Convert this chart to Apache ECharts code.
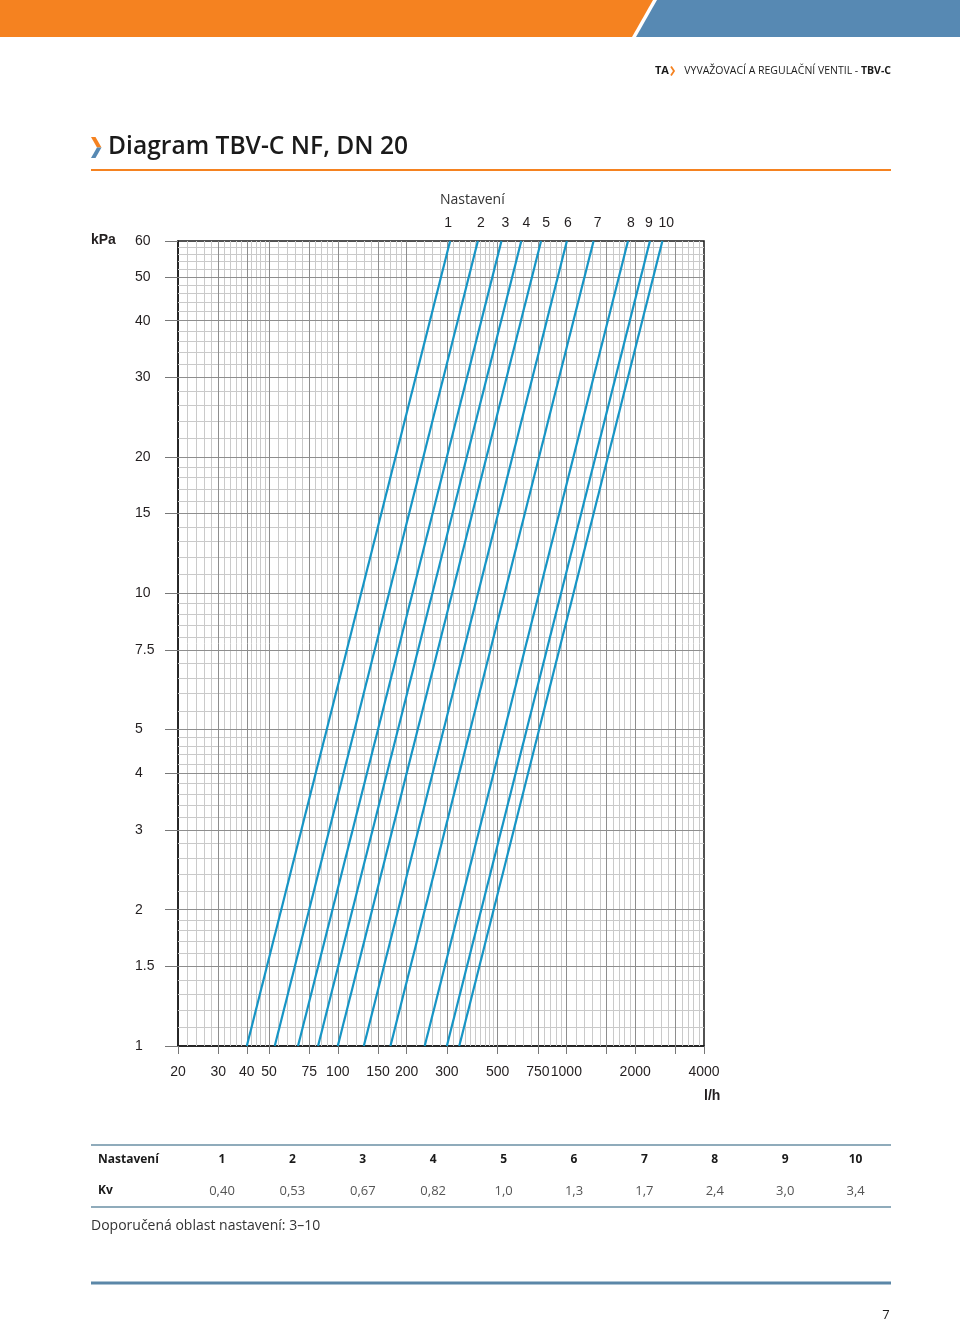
<!DOCTYPE html>
<html><head><meta charset="utf-8">
<script src="https://cdn.jsdelivr.net/npm/echarts@6/dist/echarts.min.js"></script>
<style>html,body{margin:0;padding:0;background:#fff}#c{width:960px;height:1322px}</style>
</head><body><div id="c"></div>
<script>
// ---- data ----
const settings = ['1','2','3','4','5','6','7','8','9','10'];
const kvValues = ['0,40','0,53','0,67','0,82','1,0','1,3','1,7','2,4','3,0','3,4'];
const pressureEnds = [1, 60];                 // kPa at bottom / top of each line
const flowAtBottom = [40, 53, 67, 82, 100, 130, 170, 240, 300, 340];      // l/h at 1 kPa
const flowAtTop = [310, 410, 520, 635, 775, 1005, 1315, 1860, 2320, 2630]; // l/h at 60 kPa

const xLabelValues = [20, 30, 40, 50, 75, 100, 150, 200, 300, 500, 750, 1000, 2000, 4000];
const xTickValues = [20, 30, 40, 50, 75, 100, 150, 200, 300, 500, 750, 1000, 1500, 2000, 3000, 4000];
const xMajorGrid = [30, 40, 50, 75, 100, 150, 200, 300, 500, 750, 1000, 1500, 2000, 3000];
const xMinorGrid = [22,24,26,28,32,34,36,38,42,44,46,48,55,60,65,70,80,85,90,95,
  110,120,130,140,160,170,180,190,220,240,260,280,320,340,360,380,400,420,440,460,480,
  550,600,650,700,800,850,900,950,1100,1200,1300,1400,1600,1700,1800,1900,
  2200,2400,2600,2800,3200,3400,3600,3800];

const yLabelValues = [1, 1.5, 2, 3, 4, 5, 7.5, 10, 15, 20, 30, 40, 50, 60];
const yMajorGrid = [1.5, 2, 3, 4, 5, 7.5, 10, 15, 20, 30, 40, 50];
const yMinorGrid = [1.1,1.2,1.3,1.4,1.6,1.7,1.8,1.9,2.2,2.4,2.6,2.8,3.2,3.4,3.6,3.8,
  4.2,4.4,4.6,4.8,5.5,6,6.5,7,8,8.5,9,9.5,11,12,13,14,16,17,18,19,
  22,24,26,28,32,34,36,38,42,44,46,48,52,54,56,58];

const tableRowLabels = ['Nastavení', 'Kv'];

// ---- styling ----
const labelShift = [-2, 3, 4, 5, 5, 1, 4, 3, -1, 4]; // horizontal nudges of the top labels (px)
const numFont = 'Liberation Sans, Arial, sans-serif';
const txtFont = 'Open Sans, sans-serif';
const lineBlue = '#1795c5';

const chart = echarts.init(document.getElementById('c'), null, {renderer: 'canvas'});

const lineSeries = settings.map((s, i) => ({
  type: 'line', name: s, z: 5,
  symbol: 'circle', symbolSize: 0.1, showSymbol: true,
  lineStyle: {color: lineBlue, width: 2.2},
  itemStyle: {color: lineBlue},
  data: [
    [flowAtBottom[i], pressureEnds[0]],
    {value: [flowAtTop[i], pressureEnds[1]],
     label: {show: true, position: 'top', distance: 11, formatter: s,
             fontFamily: numFont, fontSize: 14, color: '#231f20', offset: [labelShift[i], 0]}}
  ]
}));

const gridSeries = [
  {type: 'line', data: [], silent: true, z: 1,
   markLine: {silent: true, animation: false, symbol: ['none', 'none'], label: {show: false},
     lineStyle: {color: '#cacaca', width: 1, type: 'solid'},
     data: xMinorGrid.map(v => ({xAxis: v})).concat(yMinorGrid.map(v => ({yAxis: v})))}},
  {type: 'line', data: [], silent: true, z: 2,
   markLine: {silent: true, animation: false, symbol: ['none', 'none'], label: {show: false},
     lineStyle: {color: '#8e8e8e', width: 1, type: 'solid'},
     data: xMajorGrid.map(v => ({xAxis: v})).concat(yMajorGrid.map(v => ({yAxis: v})))}}
];

const colX = settings.map((s, i) => 222 + i * 70.4);
const g = [];
// header bars
g.push({type: 'polygon', shape: {points: [[0,0],[653,0],[632,37],[0,37]]}, style: {fill: '#f58220'}});
g.push({type: 'polygon', shape: {points: [[657,0],[960,0],[960,37],[636,37]]}, style: {fill: '#5789b3'}});
// header text
g.push({type: 'text', x: 655, y: 71, style: {text: 'TA', font: 'bold 11px ' + txtFont, fill: '#1a1a1a', verticalAlign: 'middle'}});
g.push({type: 'polyline', shape: {points: [[671,66.5],[674,71],[671,75.5]]}, style: {stroke: '#f58220', lineWidth: 1.8, fill: null}});
g.push({type: 'text', x: 891, y: 71, style: {
  text: '{r|VYVAŽOVACÍ A REGULAČNÍ VENTIL - }{b|TBV-C}', align: 'right', verticalAlign: 'middle',
  rich: {r: {font: '10.5px ' + txtFont, fill: '#1a1a1a'}, b: {font: 'bold 10.5px ' + txtFont, fill: '#1a1a1a'}}}});
// title
g.push({type: 'polygon', shape: {points: [[91,137],[95.5,137],[101.5,147.5],[97,147.5]]}, style: {fill: '#f58220'}});
g.push({type: 'polygon', shape: {points: [[97,147.5],[101.5,147.5],[95.5,158],[91,158]]}, style: {fill: '#5789b3'}});
g.push({type: 'text', x: 108, y: 147, style: {text: 'Diagram TBV-C NF, DN 20', font: '600 24.6px ' + txtFont, fill: '#1a1a1a', verticalAlign: 'middle'}});
g.push({type: 'line', shape: {x1: 91, y1: 170, x2: 891, y2: 170}, style: {stroke: '#f58220', lineWidth: 2}});
// chart annotations
g.push({type: 'text', x: 440, y: 200, style: {text: 'Nastavení', font: '14px ' + txtFont, fill: '#333', verticalAlign: 'middle'}});
g.push({type: 'text', x: 91, y: 240, style: {text: 'kPa', font: 'bold 14px ' + numFont, fill: '#231f20', verticalAlign: 'middle'}});
g.push({type: 'text', x: 704, y: 1096, style: {text: 'l/h', font: 'bold 14px ' + numFont, fill: '#231f20', verticalAlign: 'middle'}});
// table
g.push({type: 'line', shape: {x1: 91, y1: 1145, x2: 891, y2: 1145}, style: {stroke: '#8fabbb', lineWidth: 2}});
g.push({type: 'line', shape: {x1: 91, y1: 1207, x2: 891, y2: 1207}, style: {stroke: '#8fabbb', lineWidth: 2}});
g.push({type: 'text', x: 98, y: 1160, style: {text: tableRowLabels[0], font: 'bold 12px ' + txtFont, fill: '#1a1a1a', verticalAlign: 'middle'}});
g.push({type: 'text', x: 98, y: 1191, style: {text: tableRowLabels[1], font: 'bold 12px ' + txtFont, fill: '#1a1a1a', verticalAlign: 'middle'}});
settings.forEach((s, i) => {
  g.push({type: 'text', x: colX[i], y: 1160, style: {text: s, font: 'bold 12px ' + txtFont, fill: '#1a1a1a', align: 'center', verticalAlign: 'middle'}});
  g.push({type: 'text', x: colX[i], y: 1191, style: {text: kvValues[i], font: '13px ' + txtFont, fill: '#555', align: 'center', verticalAlign: 'middle'}});
});
g.push({type: 'text', x: 91, y: 1226, style: {text: 'Doporučená oblast nastavení: 3–10', font: '14px ' + txtFont, fill: '#333', verticalAlign: 'middle'}});
// footer
g.push({type: 'line', shape: {x1: 91, y1: 1283, x2: 891, y2: 1283}, style: {stroke: '#5b87a8', lineWidth: 3}});
g.push({type: 'text', x: 886, y: 1315, style: {text: '7', font: '13px ' + txtFont, fill: '#1a1a1a', align: 'center', verticalAlign: 'middle'}});

chart.setOption({
  animation: false,
  backgroundColor: '#fff',
  grid: {left: 178, top: 241, width: 526, height: 805, show: true, borderColor: '#1a1a1a', borderWidth: 1.5, containLabel: false},
  xAxis: {
    type: 'log', logBase: 10, min: 20, max: 4000,
    axisLine: {show: true, lineStyle: {color: '#1a1a1a', width: 1.5}},
    splitLine: {show: false}, minorTick: {show: false}, minorSplitLine: {show: false},
    axisTick: {show: true, customValues: xTickValues, length: 8, lineStyle: {color: '#777'}},
    axisLabel: {customValues: xLabelValues, margin: 19, fontFamily: numFont, fontSize: 14, color: '#231f20', formatter: v => String(v)}
  },
  yAxis: {
    type: 'log', logBase: 10, min: 1, max: 60,
    axisLine: {show: true, lineStyle: {color: '#1a1a1a', width: 1.5}},
    splitLine: {show: false}, minorTick: {show: false}, minorSplitLine: {show: false},
    axisTick: {show: true, customValues: yLabelValues, length: 13, lineStyle: {color: '#777'}},
    axisLabel: {customValues: yLabelValues, margin: 43, align: 'left', fontFamily: numFont, fontSize: 14, color: '#231f20', formatter: v => String(v)}
  },
  graphic: g,
  series: gridSeries.concat(lineSeries)
});
</script></body></html>
